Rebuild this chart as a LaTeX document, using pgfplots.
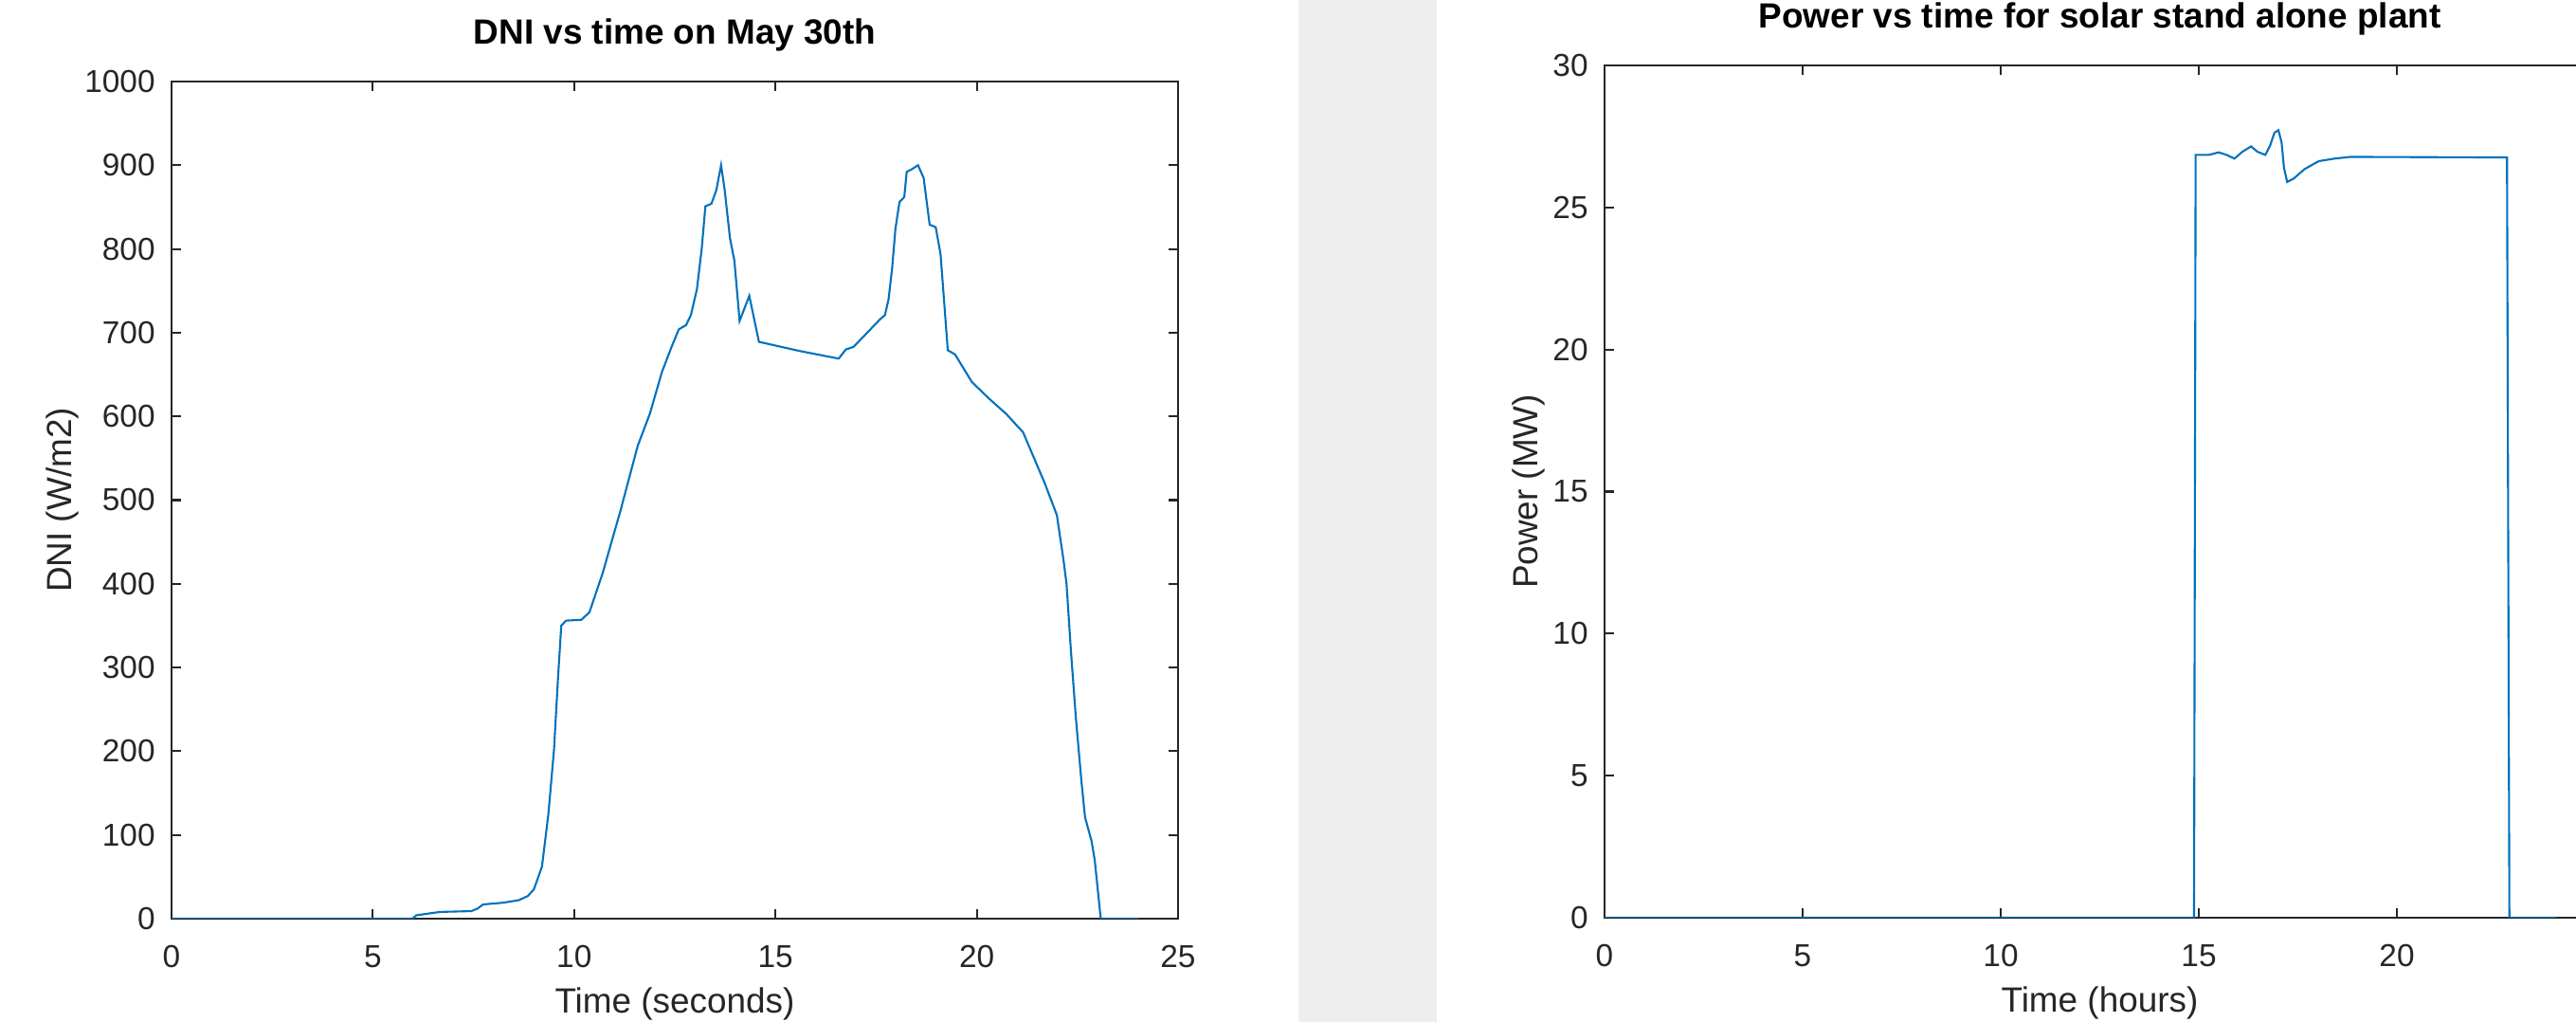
\documentclass[border=0pt]{standalone}
\usepackage{pgfplots}
\pgfplotsset{compat=1.18}
\usepackage{fontspec}
\setmainfont{Liberation Sans}
\definecolor{axgray}{RGB}{38,38,38}
\definecolor{mblue}{RGB}{0,114,189}
\definecolor{wm}{RGB}{238,238,238}
\pgfplotsset{
  mstyle/.style={
    scale only axis,
    anchor=south west,
    xmin=0,xmax=25,
    xtick={0,5,...,25},
    tick align=inside,
    tick pos=both,
    major tick length=0.1cm,
    axis line style={draw=axgray, line width=0.7pt},
    every tick/.style={draw=axgray, line width=0.6pt},
    /pgf/number format/assume math mode=true,
    /pgf/number format/1000 sep={},
    ticklabel style={font=\fontsize{9.5}{11}\selectfont, text=axgray},
    xticklabel style={yshift=-0.16cm},
    yticklabel style={xshift=-0.05cm},
    title style={at={(axis description cs:0.5,1)}, anchor=center, yshift=0.28cm, font=\bfseries\fontsize{10.5}{12}\selectfont, text=black},
    every axis x label/.style={at={(axis description cs:0.5,0)}, anchor=center, yshift=-0.90cm, font=\fontsize{10.5}{12}\selectfont, text=axgray},
    every axis y label/.style={at={(axis description cs:0,0.5)}, anchor=center, rotate=90, font=\fontsize{10.5}{12}\selectfont, text=axgray},
  }
}
\begin{document}
\begin{tikzpicture}
\fill[wm] (13.70,0) rectangle (15.16,10.78);
\begin{axis}[mstyle,
  at={(1.81cm,1.09cm)},
  width=10.62cm, height=8.83cm,
  ymin=0, ymax=1000, ytick={0,100,...,1000},
  title={DNI vs time on May 30th},
  xlabel={Time (seconds)},
  ylabel={DNI (W/m2)},
  y label style={yshift=1.15cm},
]
\addplot[mblue, line width=0.6pt] coordinates {
(0,0) (5.98,0) (6.08,4) (6.37,6) (6.67,8) (7.45,9) (7.6,12) (7.74,17) (8.23,19) (8.62,22) (8.85,27) (9.0,35) (9.2,62) (9.36,125) (9.5,202) (9.6,288) (9.68,350) (9.8,356) (10.18,357) (10.38,366) (10.71,413) (11.16,489) (11.58,565) (11.88,603) (12.18,653) (12.42,683) (12.60,704) (12.78,709) (12.90,721) (13.05,752) (13.17,801) (13.26,851) (13.41,854) (13.53,870) (13.65,900) (13.74,870) (13.87,813) (13.98,786) (14.11,714) (14.35,744) (14.59,689) (15.61,678) (16.57,669) (16.75,680) (16.94,683) (17.24,698) (17.60,716) (17.72,721) (17.81,740) (17.90,778) (17.98,824) (18.08,856) (18.20,862) (18.26,892) (18.38,895) (18.54,900) (18.68,885) (18.83,829) (18.98,826) (19.10,794) (19.19,737) (19.28,679) (19.46,674) (19.88,641) (20.31,621) (20.73,603) (21.15,581) (21.69,520) (21.99,482) (22.15,430) (22.23,400) (22.34,319) (22.46,241) (22.6,164) (22.69,121) (22.85,93) (22.93,70) (23.08,0) (24.02,0)
};
\end{axis}
\begin{axis}[mstyle,
  at={(16.93cm,1.10cm)},
  width=10.45cm, height=8.99cm,
  ymin=0, ymax=30, ytick={0,5,...,30},
  title={Power vs time for solar stand alone plant},
  xlabel={Time (hours)},
  ylabel={Power (MW)},
  y label style={yshift=0.80cm},
]
\addplot[mblue, line width=0.6pt] coordinates {
(0,0) (14.88,0) (14.92,26.85) (15.26,26.85) (15.50,26.94) (15.70,26.85) (15.90,26.72) (16.10,26.96) (16.32,27.15) (16.48,26.96) (16.68,26.85) (16.80,27.18) (16.91,27.63) (17.01,27.72) (17.09,27.29) (17.15,26.40) (17.23,25.90) (17.39,26.01) (17.67,26.35) (18.03,26.63) (18.43,26.72) (18.83,26.78) (22.78,26.76) (22.84,0) (24.01,0)
};
\end{axis}
\pgfresetboundingbox
\path[use as bounding box] (0,0) rectangle (27.18,10.78);
\end{tikzpicture}
\end{document}
